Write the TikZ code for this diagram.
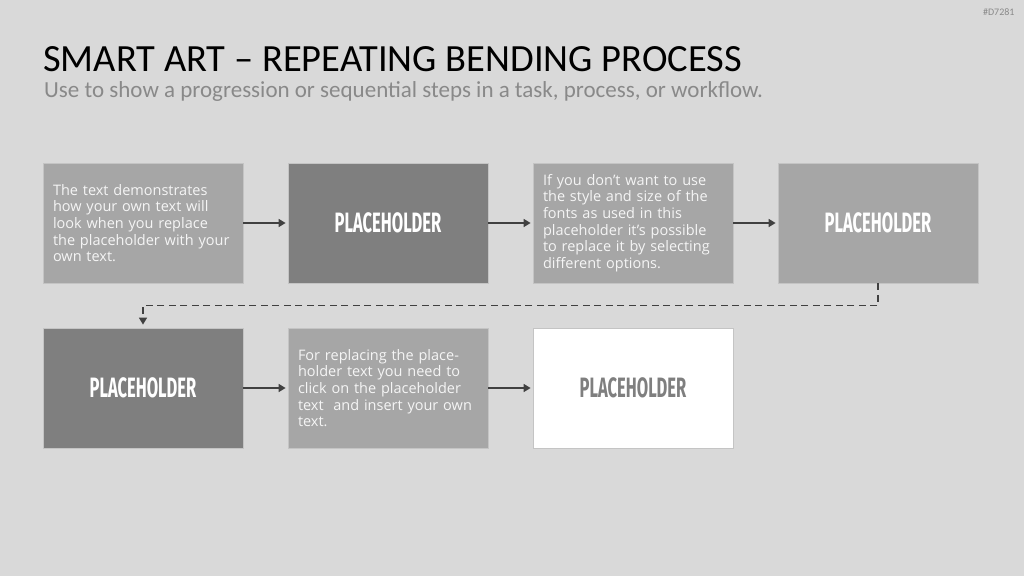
\documentclass[tikz,border=0pt]{standalone}
\usepackage{fontspec}
\setmainfont{Carlito}
\newfontfamily\bodyfont{Open Sans}
\newfontfamily\phfont{Fira Sans}
\usepackage{tikz}
\usetikzlibrary{arrows.meta}
\definecolor{SlideBg}{RGB}{217,217,217}
\definecolor{BoxLight}{RGB}{166,166,166}
\definecolor{BoxDark}{RGB}{127,127,127}
\definecolor{BoxEdge}{RGB}{196,196,196}
\definecolor{ArrowGray}{RGB}{64,64,64}
\definecolor{SubGray}{RGB}{137,137,137}
\definecolor{TxtWhite}{RGB}{245,245,245}
\newcommand{\phlabel}{\scalebox{0.59}[1]{\bfseries PLACEHOLDER}}

\begin{document}
\begin{tikzpicture}[x=1pt,y=-1pt,
  stepbox/.style n args={2}{rectangle,fill=#1,text=#2,draw=BoxEdge,line width=0.8pt,minimum width=200pt,minimum height=120pt,inner sep=10pt},
  txt/.style={text width=180pt,align=left,font=\bodyfont\fontsize{14.5}{16.7}\selectfont},
  ph/.style={font=\phfont\fontsize{28}{28}\selectfont},
  flow/.style={draw=ArrowGray,line width=1.6pt,-{Triangle[length=7pt,width=8pt]},shorten >=2pt},
  back/.style={draw=ArrowGray,line width=1.6pt,dash pattern=on 7pt off 4.5pt,-{Triangle[length=7pt,width=8pt]},shorten >=3pt}]
\fill[SlideBg] (0,0) rectangle (1024,576);
\useasboundingbox (0,0) rectangle (1024,576);
\node[anchor=east,text=SubGray,font=\fontsize{10}{10}\selectfont](tag) at (1018,12) {\#D7281};
\node[anchor=base west,inner sep=0pt,font=\fontsize{38.5}{38.5}\selectfont](title) at (43,71) {SMART ART -- REPEATING BENDING PROCESS};
\node[anchor=base west,inner sep=0pt,text=SubGray,font=\fontsize{23}{23}\selectfont](sub) at (44,97) {Use to show a progression or sequential steps in a task, process, or workflow.};
\node[stepbox={BoxLight}{TxtWhite},txt](s1) at (143,223) {The text demonstrates\\how your own text will\\look when you replace\\the placeholder with your\\own text.};
\node[stepbox={BoxDark}{white},ph](s2) at (388,223) {\phlabel};
\node[stepbox={BoxLight}{TxtWhite},txt](s3) at (633,223) {If you don’t want to use\\the style and size of the\\fonts as used in this\\placeholder it’s possible\\to replace it by selecting\\different options.};
\node[stepbox={BoxLight}{white},ph](s4) at (878,223) {\phlabel};
\node[stepbox={BoxDark}{white},ph](s5) at (143,388) {\phlabel};
\node[stepbox={BoxLight}{TxtWhite},txt](s6) at (388,388) {For replacing the place-\\holder text you need to\\click on the placeholder\\text\ \ and insert your own\\text.};
\node[stepbox={white}{BoxDark},ph](s7) at (633,388) {\phlabel};
\foreach \a/\b in {s1/s2,s2/s3,s3/s4,s5/s6,s6/s7} {
   \draw[flow] (\a) -- (\b);
}
\draw[back] (s4.south) -- ++(0,22) -| (s5.north);
\end{tikzpicture}
\end{document}
